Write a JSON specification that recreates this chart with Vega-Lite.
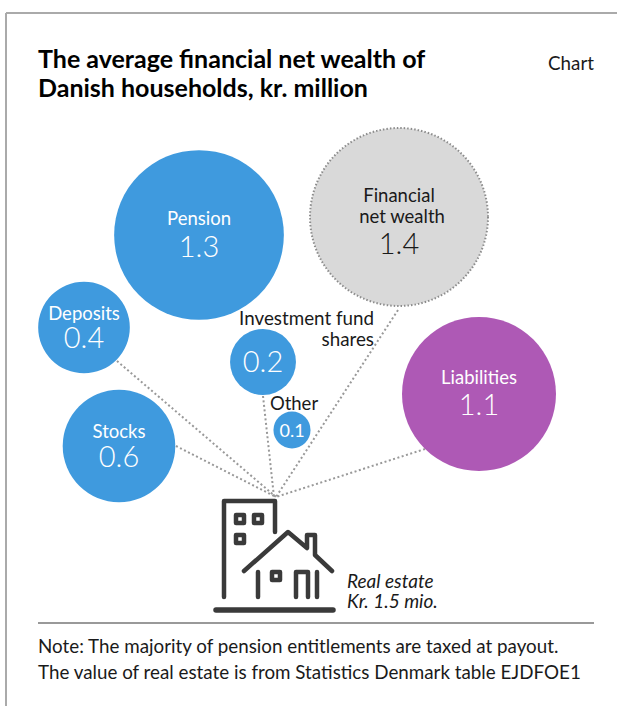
{"$schema":"https://vega.github.io/schema/vega-lite/v6.json","width":617,"height":706,"autosize":{"type":"none"},"padding":0,"background":"white","config":{"view":{"stroke":null},"axis":{"domain":false,"grid":false,"ticks":false,"labels":false,"title":null}},
"datasets":{
"frame":[{"k":"top","a":6,"b":13},{"k":"top","a":617,"b":13},{"k":"left","a":6,"b":13},{"k":"left","a":6,"b":706}],
"spokes":[{"k":"Deposits","a":117,"b":361},{"k":"Deposits","a":276,"b":497},{"k":"Stocks","a":176,"b":446},{"k":"Stocks","a":276,"b":497},{"k":"Inv","a":263,"b":396},{"k":"Inv","a":274,"b":497},{"k":"Fin","a":398,"b":310},{"k":"Fin","a":276,"b":497},{"k":"Liab","a":425,"b":449},{"k":"Liab","a":276,"b":497}],
"bubbles":[{"name":"Pension","amount":1.3,"a":199,"b":235,"group":"asset"},{"name":"Deposits","amount":0.379,"a":84,"b":327.5,"group":"asset"},{"name":"Stocks","amount":0.572,"a":119,"b":446,"group":"asset"},{"name":"Investment fund shares","amount":0.196,"a":263,"b":362,"group":"asset"},{"name":"Other","amount":0.062,"a":292,"b":430,"group":"asset"},{"name":"Liabilities","amount":1.07,"a":479,"b":394,"group":"liability"}],
"net":[{"name":"Financial net wealth","amount":1.43,"a":399,"b":217}],
"house":[{"k":"b","s":1,"a":224,"b":597},{"k":"b","s":2,"a":224,"b":501},{"k":"b","s":3,"a":275,"b":501},{"k":"b","s":4,"a":275,"b":532},
{"k":"r","s":1,"a":244,"b":571},{"k":"r","s":2,"a":288,"b":532},{"k":"r","s":3,"a":307,"b":548},{"k":"r","s":4,"a":307,"b":535},{"k":"r","s":5,"a":315,"b":535},{"k":"r","s":6,"a":315,"b":555},{"k":"r","s":7,"a":332,"b":571},
{"k":"l","s":1,"a":258,"b":572},{"k":"l","s":2,"a":258,"b":597},
{"k":"d","s":1,"a":296,"b":597},{"k":"d","s":2,"a":296,"b":572},{"k":"d","s":3,"a":308,"b":572},{"k":"d","s":4,"a":308,"b":597},
{"k":"e","s":1,"a":317,"b":572},{"k":"e","s":2,"a":317,"b":597},
{"k":"w1","s":1,"a":236,"b":515},{"k":"w1","s":2,"a":244,"b":515},{"k":"w1","s":3,"a":244,"b":523},{"k":"w1","s":4,"a":236,"b":523},{"k":"w1","s":5,"a":236,"b":515},
{"k":"w2","s":1,"a":254,"b":515},{"k":"w2","s":2,"a":262,"b":515},{"k":"w2","s":3,"a":262,"b":523},{"k":"w2","s":4,"a":254,"b":523},{"k":"w2","s":5,"a":254,"b":515},
{"k":"w3","s":1,"a":236,"b":535},{"k":"w3","s":2,"a":244,"b":535},{"k":"w3","s":3,"a":244,"b":543},{"k":"w3","s":4,"a":236,"b":543},{"k":"w3","s":5,"a":236,"b":535},
{"k":"w4","s":1,"a":272,"b":572},{"k":"w4","s":2,"a":280,"b":572},{"k":"w4","s":3,"a":280,"b":580},{"k":"w4","s":4,"a":272,"b":580},{"k":"w4","s":5,"a":272,"b":572}],
"base":[{"k":"g","a":216,"b":610},{"k":"g","a":333,"b":610}],
"sep":[{"k":"s","a":38,"b":623},{"k":"s","a":594,"b":623}],
"title":[{"t":"The average financial net wealth of","a":38,"b":60},{"t":"Danish households, kr. million","a":38,"b":89}],
"small":[{"t":"Pension","a":199,"b":219,"c":"w"},{"t":"Deposits","a":84,"b":314,"c":"w"},{"t":"Stocks","a":119,"b":432,"c":"w"},{"t":"Liabilities","a":479,"b":378,"c":"w"},{"t":"Financial","a":399,"b":196,"c":"k"},{"t":"net wealth","a":402,"b":217,"c":"k"},{"t":"Other","a":294,"b":404,"c":"k"}],
"large":[{"t":"1.3","a":199,"b":248,"c":"w"},{"t":"0.4","a":84,"b":339,"c":"w"},{"t":"0.6","a":119,"b":458,"c":"w"},{"t":"0.2","a":263,"b":363,"c":"w"},{"t":"1.1","a":479,"b":406,"c":"w"},{"t":"1.4","a":399,"b":245,"c":"k"}],
"right":[{"t":"Investment fund","a":374,"b":319},{"t":"shares","a":374,"b":340},{"t":"Chart","a":594,"b":64}],
"tiny":[{"t":"0.1","a":292,"b":432}],
"italic":[{"t":"Real estate","a":347,"b":582},{"t":"Kr. 1.5 mio.","a":347,"b":602}],
"note":[{"t":"Note: The majority of pension entitlements are taxed at payout.","a":38,"b":647},{"t":"The value of real estate is from Statistics Denmark table EJDFOE1","a":38,"b":673}]
},
"encoding":{"x":{"field":"a","type":"quantitative","scale":{"domain":[0,617]},"axis":null},"y":{"field":"b","type":"quantitative","scale":{"domain":[706,0]},"axis":null}},
"layer":[
{"data":{"name":"frame"},"mark":{"type":"line","stroke":"#aaaaaa","strokeWidth":2},"encoding":{"detail":{"field":"k"}}},
{"data":{"name":"spokes"},"mark":{"type":"line","stroke":"#999999","strokeWidth":2,"strokeDash":[2,2.5]},"encoding":{"detail":{"field":"k"},"order":{"field":"b"}}},
{"data":{"name":"net"},"mark":{"type":"point","filled":true,"opacity":1,"shape":"circle","fill":"#d9d9d9","stroke":"#8c8c8c","strokeWidth":2,"strokeDash":[1.5,2]},"encoding":{"size":{"field":"amount","type":"quantitative","scale":{"domain":[0,1.43],"range":[0,31684]},"legend":null}}},
{"data":{"name":"bubbles"},"mark":{"type":"point","filled":true,"opacity":1,"shape":"circle"},"encoding":{"size":{"field":"amount","type":"quantitative","scale":{"domain":[0,1.43],"range":[0,31684]},"legend":null},"color":{"field":"group","type":"nominal","scale":{"domain":["asset","liability","w","k"],"range":["#3f9ade","#ae59b5","#ffffff","#1a1a1a"]},"legend":null}}},
{"data":{"name":"house"},"mark":{"type":"line","stroke":"#3a3a3a","strokeWidth":4.5,"strokeCap":"round","strokeJoin":"round"},"encoding":{"detail":{"field":"k"},"order":{"field":"s"}}},
{"data":{"name":"base"},"mark":{"type":"line","stroke":"#3a3a3a","strokeWidth":5.5,"strokeCap":"round"},"encoding":{"detail":{"field":"k"}}},
{"data":{"name":"sep"},"mark":{"type":"line","stroke":"#999999","strokeWidth":2},"encoding":{"detail":{"field":"k"}}},
{"data":{"name":"title"},"mark":{"type":"text","font":"Lato","fontWeight":"bold","fontSize":25,"align":"left","baseline":"middle","fill":"#000000"},"encoding":{"text":{"field":"t"}}},
{"data":{"name":"small"},"mark":{"type":"text","font":"Lato","fontSize":18.5,"align":"center","baseline":"middle"},"encoding":{"text":{"field":"t"},"color":{"field":"c","type":"nominal","scale":{"domain":["asset","liability","w","k"],"range":["#3f9ade","#ae59b5","#ffffff","#1a1a1a"]},"legend":null}}},
{"data":{"name":"large"},"mark":{"type":"text","font":"Lato","fontSize":29,"fontWeight":300,"align":"center","baseline":"middle"},"encoding":{"text":{"field":"t"},"color":{"field":"c","type":"nominal","scale":{"domain":["asset","liability","w","k"],"range":["#3f9ade","#ae59b5","#ffffff","#1a1a1a"]},"legend":null}}},
{"data":{"name":"right"},"mark":{"type":"text","font":"Lato","fontSize":18.8,"align":"right","baseline":"middle","fill":"#1a1a1a"},"encoding":{"text":{"field":"t"}}},
{"data":{"name":"tiny"},"mark":{"type":"text","font":"Lato","fontSize":18,"align":"center","baseline":"middle","fill":"#ffffff"},"encoding":{"text":{"field":"t"}}},
{"data":{"name":"italic"},"mark":{"type":"text","font":"Lato","fontSize":19,"fontStyle":"italic","align":"left","baseline":"middle","fill":"#1a1a1a"},"encoding":{"text":{"field":"t"}}},
{"data":{"name":"note"},"mark":{"type":"text","font":"Lato","fontSize":18.8,"align":"left","baseline":"middle","fill":"#1a1a1a"},"encoding":{"text":{"field":"t"}}}
]}
